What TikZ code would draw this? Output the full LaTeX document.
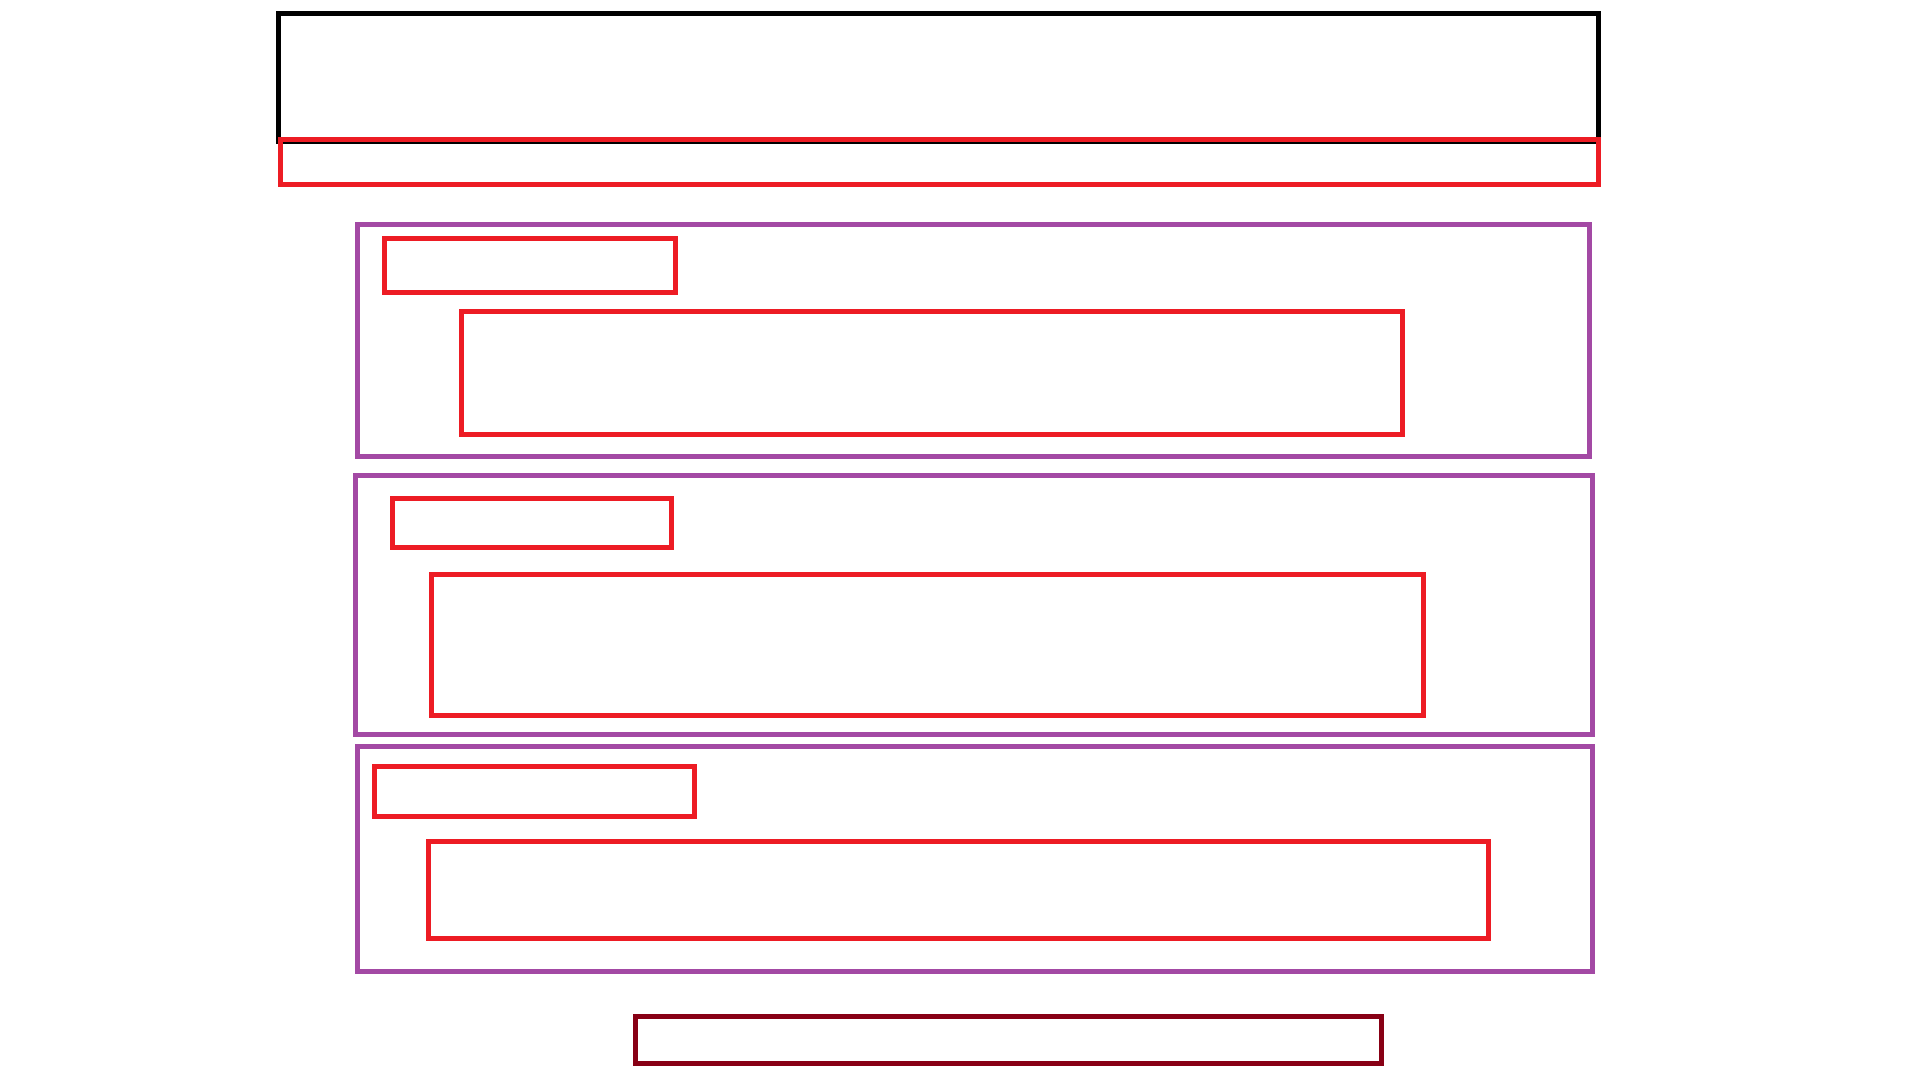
\documentclass[tikz,border=0pt]{standalone}
\definecolor{boxred}{HTML}{ED1C24}
\definecolor{boxpurple}{HTML}{A349A4}
\definecolor{boxdark}{HTML}{880015}
\tikzset{
  framebox/.style={draw=black, line width=0.05cm},
  redbox/.style={draw=boxred, line width=0.05cm},
  groupbox/.style={draw=boxpurple, line width=0.05cm},
  footbox/.style={draw=boxdark, line width=0.05cm}
}
\begin{document}
\begin{tikzpicture}[x=0.01cm, y=-0.01cm]
\useasboundingbox (0,0) rectangle (1920,1080);
% header
\draw[framebox] (278,13.5) rectangle (1598,141.5);
\draw[redbox] (280,139.5) rectangle (1598,185);
% first group
\draw[groupbox] (357.5,224.5) rectangle (1589,456.5);
\draw[redbox] (384.5,238.5) rectangle (675,293);
\draw[redbox] (461.5,311.5) rectangle (1402,434.5);
% second group
\draw[groupbox] (355,475.5) rectangle (1592,734.5);
\draw[redbox] (392,498.5) rectangle (671,547.5);
\draw[redbox] (431,574.5) rectangle (1423,716);
% third group
\draw[groupbox] (357.5,746.5) rectangle (1592,971.5);
\draw[redbox] (374.5,766.5) rectangle (694,817);
\draw[redbox] (428.5,841.5) rectangle (1488,938.5);
% footer
\draw[footbox] (635.5,1016.5) rectangle (1381,1063.5);
\end{tikzpicture}
\end{document}
